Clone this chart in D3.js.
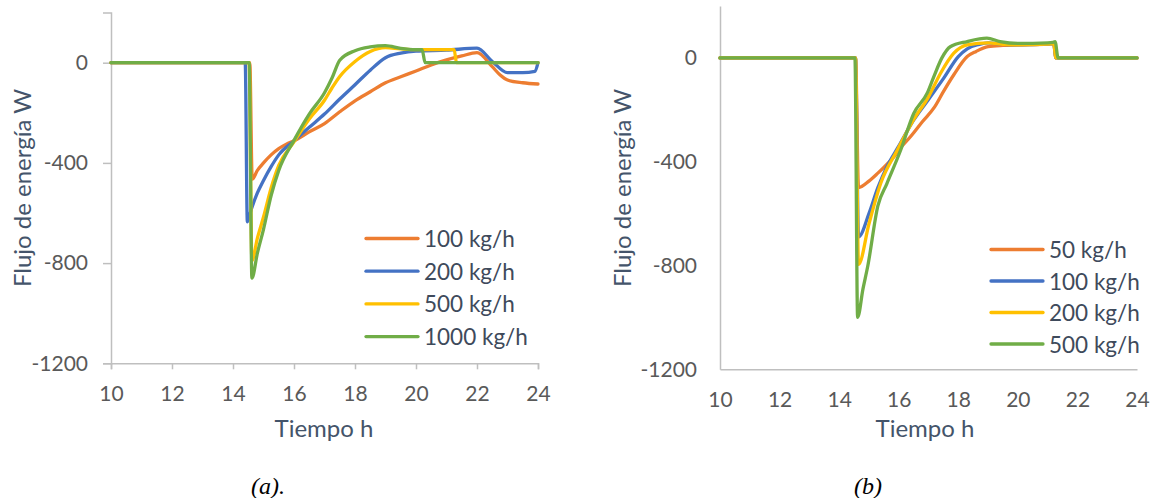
<!DOCTYPE html>
<html>
<head>
<meta charset="utf-8">
<script src="https://cdn.jsdelivr.net/npm/d3@7"></script>
<style>
  html, body { margin: 0; padding: 0; background: #fff; }
  svg { display: block; }
</style>
</head>
<body>
<svg id="chart" width="1156" height="498"></svg>
<script>
// ---------- DATA ----------
const xTicks = [10, 12, 14, 16, 18, 20, 22, 24];
const yTicks = [0, -400, -800, -1200];

const legendA = ["100 kg/h", "200 kg/h", "500 kg/h", "1000 kg/h"];
const legendB = ["50 kg/h", "100 kg/h", "200 kg/h", "500 kg/h"];
const seriesColors = ["#ED7D31", "#4472C4", "#FFC000", "#70AD47"];

// Chart (a): [hour, W]
const a100 = [[10,0],[14.55,0],[14.63,-465],[14.8,-430],[15,-400],[15.25,-368],[15.5,-343],[15.75,-325],[16,-312],[16.5,-276],[17,-243],[17.5,-196],[18,-152],[18.5,-116],[19,-80],[19.5,-56],[20,-33],[20.5,-9],[21,11],[21.5,27],[22,40],[22.5,-16],[22.75,-48],[23,-69],[23.5,-80],[24,-85]];
const a200 = [[10,0],[14.4,0],[14.47,-635],[14.6,-585],[14.8,-520],[15,-470],[15.25,-415],[15.5,-368],[16,-312],[16.5,-258],[17,-205],[17.5,-145],[18,-88],[18.5,-30],[19,20],[19.5,38],[20,46],[21,50],[22,58],[22.5,5],[23,-40],[23.5,-40],[23.9,-35],[24,0]];
const a500 = [[10,0],[14.53,0],[14.62,-790],[14.8,-700],[15,-616],[15.25,-500],[15.5,-410],[16,-316],[16.5,-225],[17,-150],[17.25,-100],[17.5,-55],[18,5],[18.5,45],[19,60],[19.5,55],[20,52],[21,52],[21.25,52],[21.33,0],[24,0]];
const a1000 = [[10,0],[14.53,0],[14.62,-860],[14.8,-760],[15,-665],[15.25,-530],[15.5,-430],[16,-310],[16.5,-205],[17,-120],[17.25,-60],[17.5,10],[18,48],[18.5,63],[19,68],[19.5,57],[20,52],[20.2,52],[20.3,0],[24,0]];

// Chart (b): [hour, W]
const b50 = [[10,0],[14.55,0],[14.65,-500],[15,-475],[15.3,-444],[15.6,-410],[15.85,-380],[16,-355],[16.4,-303],[16.8,-245],[17.2,-190],[17.5,-130],[17.85,-65],[18.3,5],[18.6,25],[19,43],[19.5,48],[20,50],[21,53],[21.2,55],[21.28,0],[24,0]];
const b100 = [[10,0],[14.55,0],[14.65,-690],[15,-600],[15.3,-500],[15.6,-420],[16,-340],[16.5,-240],[17,-160],[17.5,-80],[18,5],[18.3,35],[18.7,52],[19,58],[19.5,52],[20,50],[21,53],[21.2,55],[21.28,0],[24,0]];
const b200 = [[10,0],[14.55,0],[14.65,-796],[15,-640],[15.4,-482],[15.96,-354],[16.5,-238],[17,-150],[17.4,-60],[17.85,18],[18.3,50],[19,58],[19.5,52],[20,50],[21,53],[21.2,55],[21.28,0],[24,0]];
const b500 = [[10,0],[14.53,0],[14.62,-1000],[14.8,-890],[14.96,-803],[15.3,-570],[15.6,-485],[16.07,-354],[16.5,-215],[16.96,-135],[17.18,-72],[17.45,0],[17.73,43],[18.3,63],[18.96,76],[19.4,63],[20,56],[21,58],[21.18,60],[21.25,63],[21.35,0],[24,0]];

// ---------- DRAW ----------
const svg = d3.select("#chart");
const FONT = "Lato, 'Open Sans', sans-serif";
const fmt = d => String(d);

function drawChart(cfg) {
  const x = d3.scaleLinear().domain([10, 24]).range([cfg.x0, cfg.x1]);
  const y = d3.scaleLinear().domain([-1200, 200]).range([cfg.yBottom, cfg.yTop]);
  const g = svg.append("g");

  // x axis
  const xAxis = d3.axisBottom(x).tickValues(xTicks).tickFormat(fmt).tickSizeOuter(0)
    .tickSize(cfg.ticks ? 6 : 0).tickPadding(cfg.ticks ? 17 : 23);
  const gx = g.append("g").attr("transform", `translate(0,${y(-1200)})`).call(xAxis);
  gx.select(".domain").attr("stroke", "#BFBFBF").attr("stroke-width", 1.5);
  gx.selectAll(".tick line").attr("stroke", "#BFBFBF").attr("stroke-width", 1.5);
  gx.selectAll(".tick text").attr("fill", "#595959").attr("font-size", 21).attr("font-family", FONT);

  // y axis
  const yAxis = d3.axisLeft(y).tickValues(yTicks).tickFormat(fmt).tickSizeOuter(0)
    .tickSize(cfg.ticks ? 8 : 0).tickPadding(cfg.ticks ? 15 : 23);
  const gy = g.append("g").attr("transform", `translate(${x(10)},0)`).call(yAxis);
  gy.select(".domain").attr("stroke", "#BFBFBF").attr("stroke-width", 1.5);
  gy.selectAll(".tick line").attr("stroke", "#BFBFBF").attr("stroke-width", 1.5);
  gy.selectAll(".tick text").attr("fill", "#595959").attr("font-size", 21).attr("font-family", FONT);

  // lines
  const line = d3.line().x(d => x(d[0])).y(d => y(d[1])).curve(d3.curveMonotoneX);
  cfg.series.forEach((s, i) => {
    g.append("path").datum(s).attr("d", line)
      .attr("fill", "none").attr("stroke", seriesColors[i])
      .attr("stroke-width", 3.3).attr("stroke-linejoin", "round").attr("stroke-linecap", "round");
  });

  // axis titles
  g.append("text").attr("x", cfg.xTitleX).attr("y", 427).attr("text-anchor", "middle")
    .attr("dominant-baseline", "central").attr("fill", "#44546A")
    .attr("font-size", 24).attr("font-family", FONT).text("Tiempo h");
  g.append("text").attr("transform", `translate(${cfg.yTitleX},188) rotate(-90)`)
    .attr("text-anchor", "middle").attr("dominant-baseline", "central").attr("fill", "#44546A")
    .attr("font-size", 24).attr("font-family", FONT).text("Flujo de energía W");

  // legend
  cfg.legend.forEach((lab, i) => {
    const ly = cfg.legY + i * cfg.legStep;
    g.append("line").attr("x1", cfg.legX).attr("x2", cfg.legX + 52).attr("y1", ly).attr("y2", ly)
      .attr("stroke", seriesColors[i]).attr("stroke-width", 3.3).attr("stroke-linecap", "round");
    g.append("text").attr("x", cfg.legX + 58).attr("y", ly).attr("dominant-baseline", "central")
      .attr("fill", "#3E4A5B").attr("font-size", 22.5).attr("font-family", FONT).text(lab);
  });

  // caption
  g.append("text").attr("x", cfg.capX).attr("y", 486).attr("text-anchor", "middle")
    .attr("dominant-baseline", "central").attr("fill", "#000")
    .attr("font-size", 24).attr("font-style", "italic")
    .attr("font-family", "'Liberation Serif', 'DejaVu Serif', serif").text(cfg.caption);
}

drawChart({
  x0: 111, x1: 538, yBottom: 363.3, yTop: 12.6, ticks: true,
  series: [a100, a200, a500, a1000], legend: legendA,
  legX: 366, legY: 238.5, legStep: 32.7,
  xTitleX: 324, yTitleX: 21, capX: 268, caption: "(a)."
});

drawChart({
  x0: 720, x1: 1137, yBottom: 369.3, yTop: 6, ticks: false,
  series: [b50, b100, b200, b500], legend: legendB,
  legX: 991, legY: 249.5, legStep: 31.5,
  xTitleX: 925, yTitleX: 621, capX: 868, caption: "(b)"
});
</script>
</body>
</html>
